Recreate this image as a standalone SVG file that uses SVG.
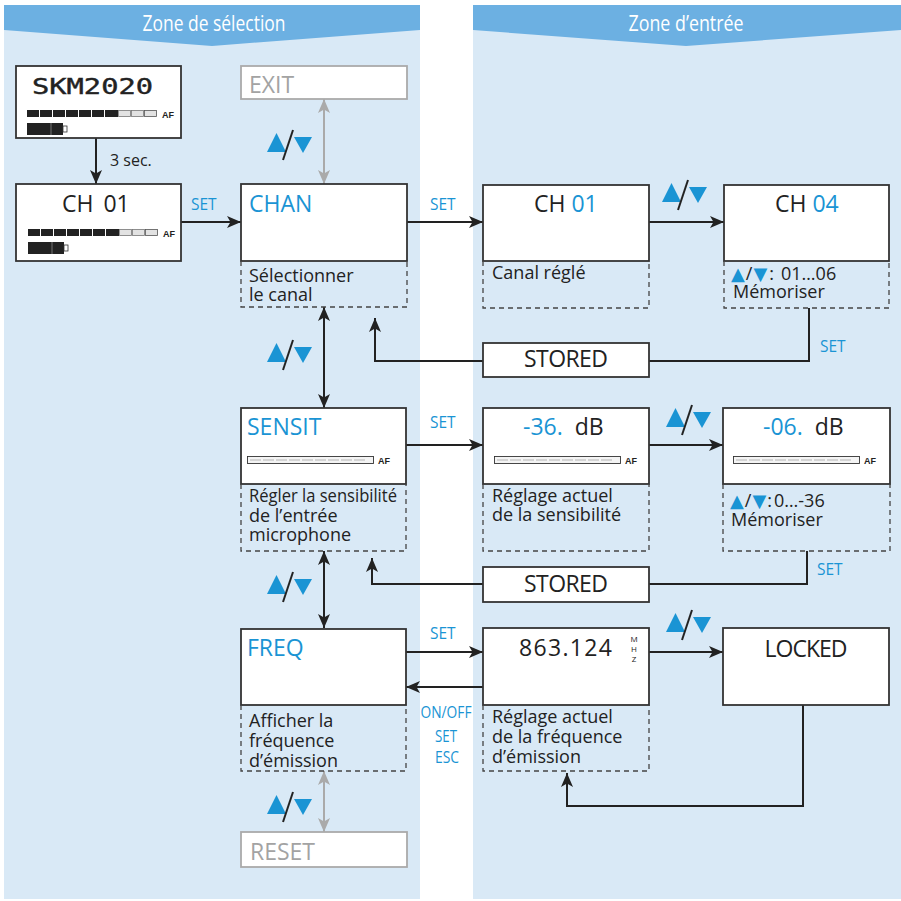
<svg xmlns="http://www.w3.org/2000/svg" xmlns:xlink="http://www.w3.org/1999/xlink" width="901" height="901" viewBox="0 0 901 901">
<style>
.panel{fill:#d9e9f6}
.hdr{fill:#6cb0e2}
.htxt{font-family:"Open Sans","DejaVu Sans",sans-serif;font-size:21px;fill:#fff;text-anchor:middle}
.box{fill:#fff;stroke:#333;stroke-width:1.8}
.gbox{fill:#fff;stroke:#aaa;stroke-width:1.8}
.dash{fill:none;stroke:#444;stroke-width:1.3;stroke-dasharray:5 4}
.t{font-family:"Open Sans","DejaVu Sans",sans-serif;fill:#222}
.big{font-size:23px}
.desc{font-size:18px}
.blue{fill:#1a94d4}
.gray{fill:#a3a3a3}
.lbl{font-family:"Open Sans","DejaVu Sans",sans-serif;font-size:15.5px;fill:#1a94d4}
.conn{fill:none;stroke:#222;stroke-width:2}
.gconn{fill:none;stroke:#aaa;stroke-width:2}
.tri{fill:#1a94d4}
.sym{font-family:"DejaVu Sans",sans-serif;fill:#1a94d4;font-size:18px}
.af{font-family:"Liberation Sans",Arial,sans-serif;font-size:9px;font-weight:bold;fill:#222}
</style>
<defs>
<marker id="ah" markerUnits="userSpaceOnUse" markerWidth="15" markerHeight="13" refX="14" refY="6" orient="auto-start-reverse" viewBox="0 0 15 13">
<path d="M0,0 L14,6 L0,12 L3.5,6 z" fill="#222"/>
</marker>
<marker id="ahg" markerUnits="userSpaceOnUse" markerWidth="15" markerHeight="13" refX="14" refY="6" orient="auto-start-reverse" viewBox="0 0 15 13">
<path d="M0,0 L14,6 L0,12 L3.5,6 z" fill="#aaa"/>
</marker>
<g id="updown">
<polygon class="tri" points="0,22 9.5,3 19,22"/>
<line x1="16" y1="30" x2="26" y2="0" stroke="#222" stroke-width="2"/>
<polygon class="tri" points="27,7 45,7 36,23"/>
</g>
<g id="afFull">
<rect x="0" y="0" width="12" height="7" fill="#222"/>
<rect x="13" y="0" width="12" height="7" fill="#222"/>
<rect x="26" y="0" width="12" height="7" fill="#222"/>
<rect x="39" y="0" width="12" height="7" fill="#222"/>
<rect x="52" y="0" width="12" height="7" fill="#222"/>
<rect x="65" y="0" width="12" height="7" fill="#222"/>
<rect x="78" y="0" width="13" height="7" fill="#222"/>
<rect x="91.5" y="0.5" width="12" height="6" fill="#e2e2e2" stroke="#777" stroke-width="0.8"/>
<rect x="104.5" y="0.5" width="12" height="6" fill="#e2e2e2" stroke="#777" stroke-width="0.8"/>
<rect x="117.5" y="0.5" width="12" height="6" fill="#e2e2e2" stroke="#555" stroke-width="0.8"/>
<text class="af" x="135" y="7.5">AF</text>
<rect x="0" y="13" width="36" height="12" fill="#222"/>
<line x1="24" y1="13" x2="24" y2="25" stroke="#888" stroke-width="0.8"/>
<rect x="36" y="16" width="4" height="6" fill="#fff" stroke="#333" stroke-width="0.8"/>
</g>
<g id="afEmpty">
<rect x="0.5" y="0.5" width="126" height="7" fill="#f4f4f4" stroke="#333" stroke-width="0.9"/>
<path d="M3,4 H14 M16,4 H27 M29,4 H40 M42,4 H53 M55,4 H66 M68,4 H79 M81,4 H92 M94,4 H105 M107,4 H118" stroke="#999" stroke-width="0.7"/>
<text class="af" x="131" y="8">AF</text>
</g>
</defs>

<rect x="0" y="0" width="901" height="901" fill="#fff"/>

<g id="zone-selection">
<rect class="panel" x="4" y="5" width="416" height="894"/>
<polygon class="hdr" points="4,5 420,5 420,30 212,46 4,30"/>
<text class="htxt" x="214" y="31" textLength="143" lengthAdjust="spacingAndGlyphs">Zone de sélection</text>
</g>
<g id="zone-entree">
<rect class="panel" x="473" y="5" width="428" height="894"/>
<polygon class="hdr" points="473,5 901,5 901,30 686,46 473,30"/>
<text class="htxt" x="686" y="31" textLength="115" lengthAdjust="spacingAndGlyphs">Zone d’entrée</text>
</g>

<g id="connectors">
<line class="conn" x1="96" y1="138" x2="96" y2="184" marker-end="url(#ah)"/>
<line class="conn" x1="181" y1="222" x2="241" y2="222" marker-end="url(#ah)"/>
<line class="conn" x1="407" y1="222" x2="483" y2="222" marker-end="url(#ah)"/>
<line class="conn" x1="649" y1="222" x2="724" y2="222" marker-end="url(#ah)"/>
<line class="conn" x1="406" y1="445" x2="483" y2="445" marker-end="url(#ah)"/>
<line class="conn" x1="649" y1="445" x2="723" y2="445" marker-end="url(#ah)"/>
<line class="conn" x1="406" y1="652" x2="483" y2="652" marker-end="url(#ah)"/>
<line class="conn" x1="483" y1="687" x2="406" y2="687" marker-end="url(#ah)"/>
<line class="conn" x1="649" y1="652" x2="723" y2="652" marker-end="url(#ah)"/>
<line class="gconn" x1="324" y1="99" x2="324" y2="184" marker-start="url(#ahg)" marker-end="url(#ahg)"/>
<line class="conn" x1="324" y1="307" x2="324" y2="408" marker-start="url(#ah)" marker-end="url(#ah)"/>
<line class="conn" x1="324" y1="551" x2="324" y2="628" marker-start="url(#ah)" marker-end="url(#ah)"/>
<line class="gconn" x1="324" y1="771" x2="324" y2="832" marker-start="url(#ahg)" marker-end="url(#ahg)"/>
<path class="conn" d="M809,308 V361 H649"/>
<path class="conn" d="M483,361 H375 V318" marker-end="url(#ah)"/>
<path class="conn" d="M807,551 V584 H649"/>
<path class="conn" d="M483,584 H372 V558" marker-end="url(#ah)"/>
<path class="conn" d="M803,705 V806 H567 V773" marker-end="url(#ah)"/>
<text class="t" x="110" y="166" font-size="16">3 sec.</text>
<text class="lbl" x="191" y="210">SET</text>
<text class="lbl" x="430" y="210">SET</text>
<text class="lbl" x="430" y="428">SET</text>
<text class="lbl" x="430" y="639">SET</text>
<text class="lbl" x="820" y="352">SET</text>
<text class="lbl" x="817" y="575">SET</text>
<text class="lbl" x="446" y="718" text-anchor="middle" textLength="51" lengthAdjust="spacingAndGlyphs">ON/OFF</text>
<text class="lbl" x="446" y="742" text-anchor="middle" textLength="22" lengthAdjust="spacingAndGlyphs">SET</text>
<text class="lbl" x="447" y="763" text-anchor="middle" textLength="24" lengthAdjust="spacingAndGlyphs">ESC</text>
<use xlink:href="#updown" x="267" y="130"/>
<use xlink:href="#updown" x="267" y="340"/>
<use xlink:href="#updown" x="267" y="572"/>
<use xlink:href="#updown" x="267" y="792"/>
<use xlink:href="#updown" x="662" y="180"/>
<use xlink:href="#updown" x="666" y="405"/>
<use xlink:href="#updown" x="666" y="610"/>
</g>

<g id="node-skm2020">
<rect class="box" x="16" y="66" width="165" height="72"/>
<text x="32" y="94" font-family="'DejaVu Sans Mono',monospace" font-size="21" fill="#222" stroke="#222" stroke-width="0.4" textLength="121" lengthAdjust="spacingAndGlyphs">SKM2020</text>
<use xlink:href="#afFull" x="27" y="110"/>
</g>
<g id="node-ch01-start">
<rect class="box" x="16" y="184" width="165" height="77"/>
<text class="t big" x="62" y="212">CH<tspan dx="10">01</tspan></text>
<use xlink:href="#afFull" x="28" y="229"/>
</g>
<g id="node-exit">
<rect class="gbox" x="241" y="66" width="166" height="33"/>
<text class="t big gray" x="249" y="93">EXIT</text>
</g>
<g id="node-chan">
<rect class="box" x="241" y="184" width="166" height="77"/>
<text class="t big blue" x="249" y="212">CHAN</text>
<path class="dash" d="M241,261 V307 H407 V261"/>
<text class="t desc" x="249" y="282">Sélectionner</text>
<text class="t desc" x="249" y="301">le canal</text>
</g>
<g id="node-ch01">
<rect class="box" x="483" y="185" width="166" height="76"/>
<text class="t big" x="534" y="212">CH <tspan class="blue">01</tspan></text>
<path class="dash" d="M483,261 V308 H649 V261"/>
<text class="t desc" x="492" y="279">Canal réglé</text>
</g>
<g id="node-ch04">
<rect class="box" x="724" y="185" width="165" height="76"/>
<text class="t big" x="775" y="212">CH <tspan class="blue">04</tspan></text>
<path class="dash" d="M724,261 V308 H889 V261"/>
<text class="t desc" x="731" y="280"><tspan class="sym">▲</tspan><tspan dx="1">/</tspan><tspan class="sym" dx="1">▼</tspan><tspan dx="2">:</tspan><tspan dx="7">01…06</tspan></text>
<text class="t desc" x="733" y="298">Mémoriser</text>
</g>
<g id="node-stored1">
<rect class="box" x="483" y="343" width="166" height="34"/>
<text class="t big" x="566" y="367" text-anchor="middle" textLength="84">STORED</text>
</g>
<g id="node-sensit">
<rect class="box" x="241" y="408" width="165" height="76"/>
<text class="t big blue" x="247" y="435">SENSIT</text>
<use xlink:href="#afEmpty" x="247" y="456"/>
<path class="dash" d="M241,484 V551 H406 V484"/>
<text class="t desc" x="249" y="502" textLength="148" lengthAdjust="spacingAndGlyphs">Régler la sensibilité</text>
<text class="t desc" x="249" y="522">de l’entrée</text>
<text class="t desc" x="249" y="541">microphone</text>
</g>
<g id="node-36db">
<rect class="box" x="483" y="408" width="166" height="76"/>
<text class="t big" x="523" y="435"><tspan class="blue">-36.</tspan><tspan dx="12">dB</tspan></text>
<use xlink:href="#afEmpty" x="494" y="456"/>
<path class="dash" d="M483,484 V551 H649 V484"/>
<text class="t desc" x="492" y="502">Réglage actuel</text>
<text class="t desc" x="492" y="521">de la sensibilité</text>
</g>
<g id="node-06db">
<rect class="box" x="723" y="408" width="167" height="76"/>
<text class="t big" x="763" y="435"><tspan class="blue">-06.</tspan><tspan dx="12">dB</tspan></text>
<use xlink:href="#afEmpty" x="733" y="456"/>
<path class="dash" d="M723,484 V551 H890 V484"/>
<text class="t desc" x="730" y="507"><tspan class="sym">▲</tspan><tspan dx="1">/</tspan><tspan class="sym" dx="1">▼</tspan><tspan dx="1">:</tspan><tspan dx="2">0…-36</tspan></text>
<text class="t desc" x="731" y="526">Mémoriser</text>
</g>
<g id="node-stored2">
<rect class="box" x="483" y="567" width="166" height="35"/>
<text class="t big" x="566" y="592" text-anchor="middle" textLength="84">STORED</text>
</g>
<g id="node-freq">
<rect class="box" x="241" y="629" width="165" height="76"/>
<text class="t big blue" x="247" y="656">FREQ</text>
<path class="dash" d="M241,705 V771 H406 V705"/>
<text class="t desc" x="249" y="727">Afficher la</text>
<text class="t desc" x="249" y="747">fréquence</text>
<text class="t desc" x="249" y="767">d’émission</text>
</g>
<g id="node-863">
<rect class="box" x="483" y="628" width="166" height="77"/>
<text class="t big" x="519" y="656" textLength="93">863.124</text>
<text class="t" x="634" y="642" font-size="8" text-anchor="middle">M</text>
<text class="t" x="634" y="652" font-size="8" text-anchor="middle">H</text>
<text class="t" x="634" y="662" font-size="8" text-anchor="middle">Z</text>
<path class="dash" d="M483,705 V771 H649 V705"/>
<text class="t desc" x="492" y="723">Réglage actuel</text>
<text class="t desc" x="492" y="743">de la fréquence</text>
<text class="t desc" x="492" y="763">d’émission</text>
</g>
<g id="node-locked">
<rect class="box" x="723" y="628" width="166" height="77"/>
<text class="t big" x="806" y="657" text-anchor="middle" textLength="83">LOCKED</text>
</g>
<g id="node-reset">
<rect class="gbox" x="241" y="832" width="166" height="35"/>
<text class="t big gray" x="250" y="860">RESET</text>
</g>
</svg>
